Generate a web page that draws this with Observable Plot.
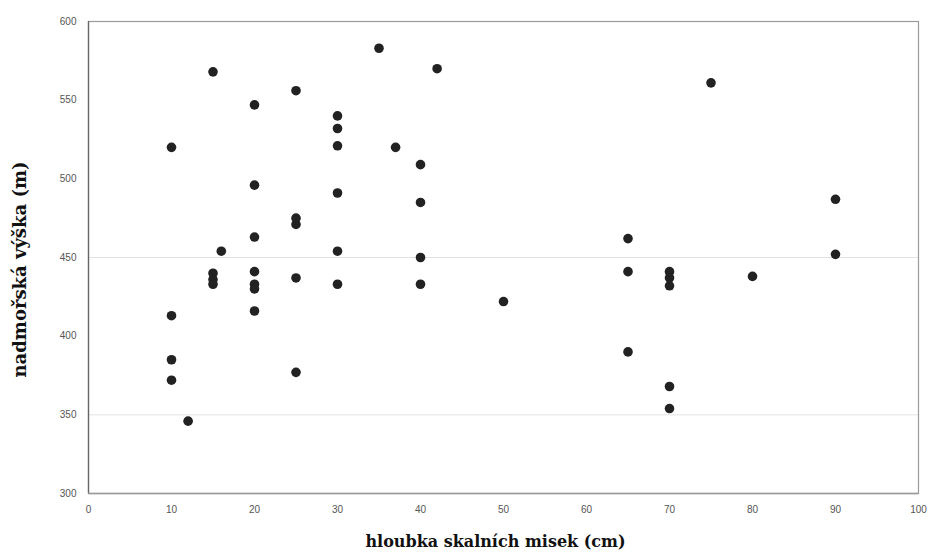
<!DOCTYPE html>
<html>
<head>
<meta charset="utf-8">
<script src="https://cdn.jsdelivr.net/npm/d3@7"></script>
<script src="https://cdn.jsdelivr.net/npm/@observablehq/plot@0.6"></script>
<style>
  html, body { margin: 0; padding: 0; background: #fff; }
</style>
</head>
<body>
<div id="chart"></div>
<script>
// hloubka skalních misek (cm)
const depth = [
  10, 10, 10, 10,
  12,
  15, 15, 15, 15,
  16,
  20, 20, 20, 20, 20, 20, 20,
  25, 25, 25, 25, 25,
  30, 30, 30, 30, 30, 30,
  35, 37,
  40, 40, 40, 40,
  42, 50,
  65, 65, 65,
  70, 70, 70, 70, 70,
  75, 80,
  90, 90
];
// nadmořská výška (m)
const altitude = [
  520, 413, 385, 372,
  346,
  568, 440, 436, 433,
  454,
  547, 496, 463, 441, 433, 430, 416,
  556, 475, 471, 437, 377,
  540, 532, 521, 491, 454, 433,
  583, 520,
  509, 485, 450, 433,
  570, 422,
  462, 441, 390,
  441, 437, 432, 368, 354,
  561, 438,
  487, 452
];
const xTicks = [0, 10, 20, 30, 40, 50, 60, 70, 80, 90, 100];
const yTicks = [300, 350, 400, 450, 500, 550, 600];
const gridLines = [350, 450];
const xLabel = "hloubka skalních misek (cm)";
const yLabel = "nadmořská výška (m)";

const points = depth.map((d, i) => ({depth: d, altitude: altitude[i]}));

const chart = Plot.plot({
  width: 934,
  height: 560,
  marginLeft: 88,
  marginRight: 16,
  marginTop: 21,
  marginBottom: 67,
  style: {fontFamily: "Liberation Sans, Arial, sans-serif", fontSize: "10px", color: "#555", background: "#fff"},
  x: {domain: [0, 100], ticks: xTicks},
  y: {domain: [300, 600], ticks: yTicks},
  marks: [
    Plot.ruleY(gridLines, {stroke: "#e2e2e2", strokeWidth: 1}),
    Plot.frame({stroke: "#9a9a9a", strokeWidth: 1.2}),
    Plot.ruleX([0], {stroke: "#666", strokeWidth: 1.3}),
    Plot.ruleY([300], {stroke: "#999", strokeWidth: 1.5}),
    Plot.axisX({ticks: xTicks, tickSize: 0, tickPadding: 12, label: null, fill: "#555"}),
    Plot.axisY({ticks: yTicks, tickSize: 0, tickPadding: 12, label: null, fill: "#555"}),
    Plot.dot(points, {x: "depth", y: "altitude", r: 4.8, fill: "#222", stroke: "none"}),
    Plot.text([xLabel], {frameAnchor: "bottom", dy: 53, dx: -8, text: d => d, textAnchor: "middle",
      fontFamily: "DejaVu Serif, serif", fontWeight: "bold", fontSize: 16, fill: "#111"}),
    Plot.text([yLabel], {frameAnchor: "left", dx: -68, dy: 12, rotate: -90, text: d => d, textAnchor: "middle",
      fontFamily: "DejaVu Serif, serif", fontWeight: "bold", fontSize: 18, fill: "#111", letterSpacing: "5px"})
  ]
});
document.getElementById("chart").appendChild(chart);
</script>
</body>
</html>
